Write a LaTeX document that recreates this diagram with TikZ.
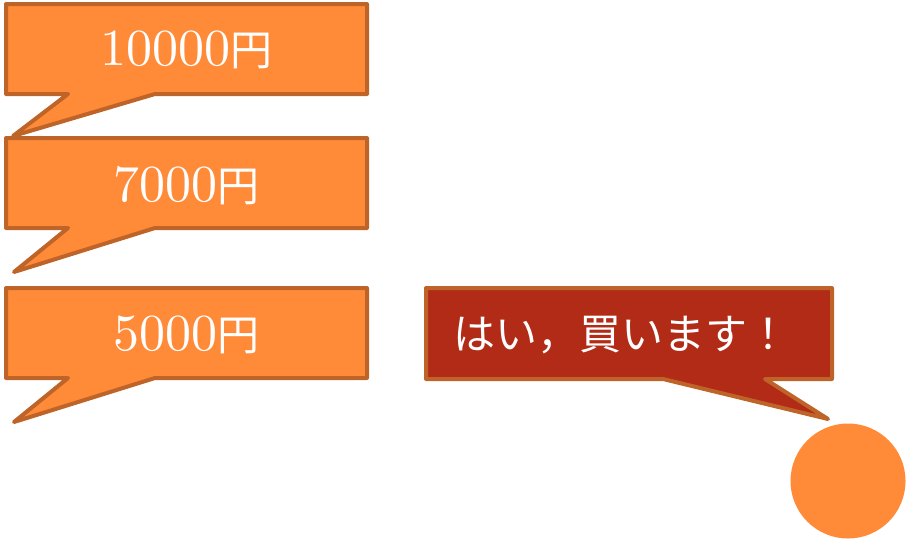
\documentclass[tikz,border=0pt]{standalone}
\usepackage{fontspec}
\newfontfamily\cjk{Noto Sans CJK JP}
\newfontfamily\lmten[Extension=.otf]{lmroman10-regular}
\definecolor{bubble}{HTML}{FF8A38}
\definecolor{edge}{HTML}{BF6428}
\definecolor{redfill}{HTML}{B22B17}
\begin{document}
\begin{tikzpicture}[x=1pt,y=-1pt,
  callout/.style={draw=edge,line width=4pt,line join=round,fill=bubble},
  redcallout/.style={callout,fill=redfill},
  label/.style={text=white,inner sep=0pt,font=\lmten\fontsize{52}{52}\selectfont},
  jp/.style={text=white,inner sep=0pt,font=\cjk\fontsize{42}{42}\selectfont}]
\useasboundingbox (0,0) rectangle (909,541);
% callout 1
\draw[callout] (6,4) -- (367,4) -- (367,94) -- (155,94) -- (13,136) -- (68,94) -- (6,94) -- cycle;
\node[label] (p1) at (186,50) {10000{\cjk\fontsize{42}{42}\selectfont 円}};
% callout 2
\draw[callout] (6,138) -- (367,138) -- (367,228) -- (155,228) -- (14,272) -- (68,228) -- (6,228) -- cycle;
\node[label] (p2) at (186,186) {7000{\cjk\fontsize{42}{42}\selectfont 円}};
% callout 3
\draw[callout] (6,288) -- (367,288) -- (367,378) -- (155,378) -- (14,422) -- (68,378) -- (6,378) -- cycle;
\node[label] (p3) at (186,335) {5000{\cjk\fontsize{42}{42}\selectfont 円}};
% red callout
\draw[redcallout] (426,288) -- (832,288) -- (832,379) -- (765,379) -- (828,419) -- (663,379) -- (426,379) -- cycle;
\node[jp] (ans) at (621,335) {はい，買います！};
% circle
\fill[bubble] (848,481) circle (57.5);
\end{tikzpicture}
\end{document}
